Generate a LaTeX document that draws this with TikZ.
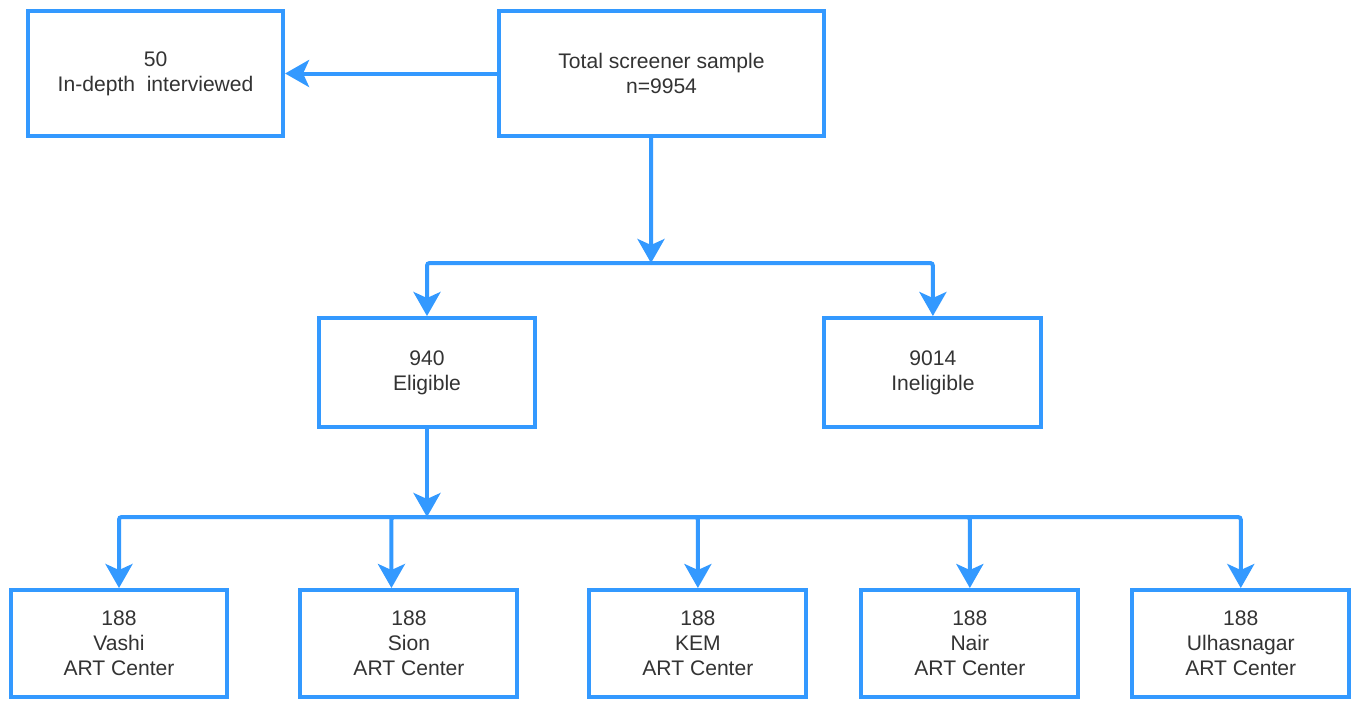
\documentclass[tikz,border=0pt]{standalone}
\usepackage{fontspec}
\setmainfont{Liberation Sans}
\usepackage{xcolor}
\usetikzlibrary{arrows.meta,positioning,calc}

\definecolor{flowblue}{RGB}{51,153,255}
\definecolor{flowtext}{RGB}{51,51,51}

\tikzset{
  box/.style={draw=flowblue, line width=0.08cm, text=flowtext, align=center,
    inner sep=0pt, font=\fontsize{12}{14.2}\selectfont},
  bigbox/.style={box, minimum height=2.5cm},
  midbox/.style={box, minimum width=4.34cm, minimum height=2.18cm},
  sitebox/.style={box, minimum width=4.34cm, minimum height=2.14cm},
  flow/.style={draw=flowblue, line width=0.08cm, rounded corners=1.5pt,
    -{Stealth[length=0.48cm,width=0.54cm,inset=0.12cm]}},
}

\begin{document}
\begin{tikzpicture}[x=0.02cm, y=-0.02cm]
  \useasboundingbox (0,0) rectangle (1359,700);

  \node[bigbox, minimum width=6.5cm] at (661.5,73.5) (total) {Total screener sample\\n=9954} ;
  \node[bigbox, minimum width=5.1cm, left=4.24cm of total] (interv) {50\\In-depth\ \ interviewed} ;

  \node[midbox] at (427,372.5) (elig) {940\\Eligible} ;
  \node[midbox, right=5.7cm of elig] (inel) {9014\\Ineligible} ;

  \node[sitebox] at (119,643.5) (vashi) {188\\Vashi\\ART Center} ;
  \node[sitebox, right=1.38cm of vashi] (sion) {188\\Sion\\ART Center} ;
  \node[sitebox, right=1.36cm of sion] (kem) {188\\KEM\\ART Center} ;
  \node[sitebox, right=1.02cm of kem] (nair) {188\\Nair\\ART Center} ;
  \node[sitebox, right=1.0cm of nair] (ulhas) {188\\Ulhasnagar\\ART Center} ;

  \coordinate (split) at (651,263) ;
  \coordinate (fork) at (427,517) ;

  \draw[flow] (total.west) -- (interv.east) ;
  \draw[flow] ([xshift=-0.21cm]total.south) -- (split) ;
  \draw[flow] (split) -| (elig.north) ;
  \draw[flow] (split) -| (inel.north) ;

  \draw[flow] (elig.south) -- (fork) ;
  \draw[flow] (fork) -| (vashi.north) ;
  \draw[flow] (fork) -| ([xshift=-0.35cm]sion.north) ;
  \draw[flow] (fork) -| (kem.north) ;
  \draw[flow] (fork) -| (nair.north) ;
  \draw[flow] (fork) -| (ulhas.north) ;

\end{tikzpicture}
\end{document}
